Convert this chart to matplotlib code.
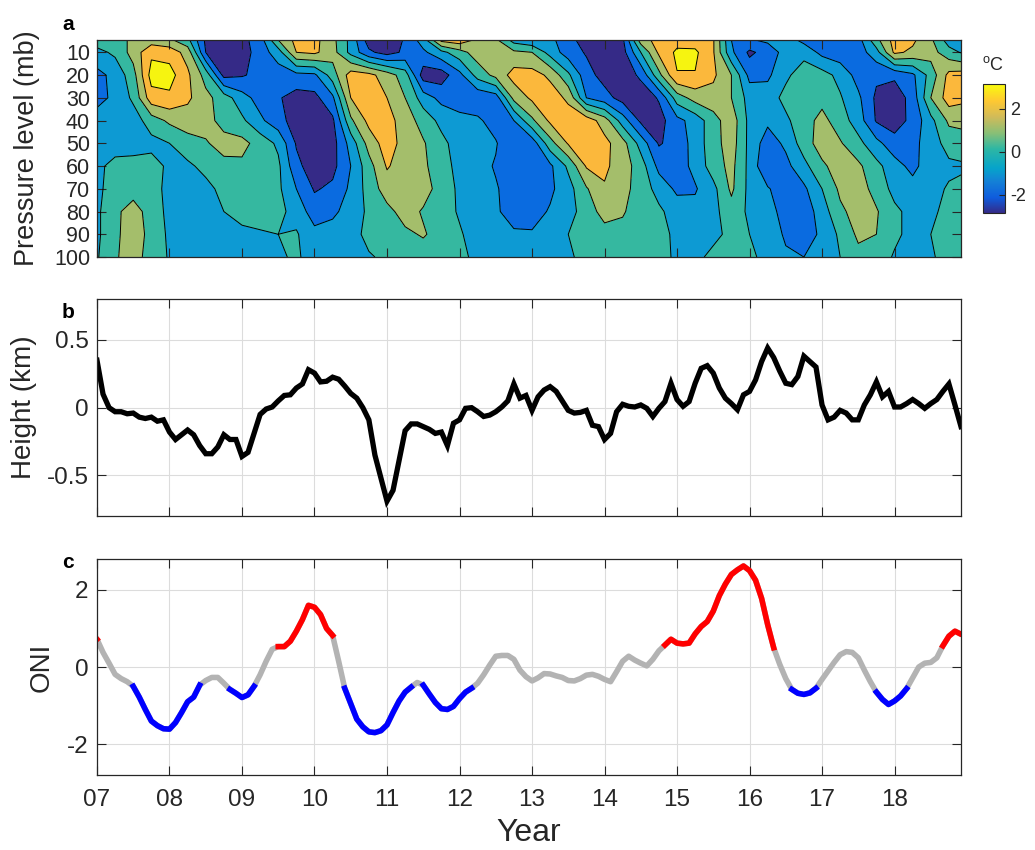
import matplotlib
matplotlib.use("Agg")
import matplotlib.pyplot as plt
import numpy as np
from matplotlib.colors import LinearSegmentedColormap, Normalize
from matplotlib.cm import ScalarMappable

plt.rcParams["font.family"] = ["Liberation Sans", "DejaVu Sans"]
plt.rcParams["axes.unicode_minus"] = False
plt.rcParams["mathtext.fontset"] = "custom"
plt.rcParams["mathtext.rm"] = "Liberation Sans"

# ---- panel a: temperature anomaly (deg C), one column every 3 months from 2007.0
pressure = [4.6, 10, 20, 30, 40, 50, 60, 70, 80, 90, 100]
qbo_time = [2007 + 0.25 * k for k in range(49)]
qbo_cols = [
    [0.5, -0.3, -1.3, -1.3, -0.6, -0.6, -0.3, -0.3, -0.2, -0.2, -0.1],
    [0.6, 0.2, -0.7, -0.8, -0.7, -0.6, 0.4, 0.6, 0.8, 0.8, 0.9],
    [1.2, 1.4, 0.6, 0.2, -0.5, -0.6, 0.5, 0.6, 1.4, 1.5, 1.4],
    [1.5, 2.8, 3.4, 2.6, 0.5, -0.3, 0.4, 0.4, 0.6, 0.7, 0.6],
    [1.2, 2.6, 3.4, 2.8, 1.2, 0.0, -0.2, -0.3, -0.3, -0.2, -0.1],
    [0.3, 1.6, 2.2, 2.2, 1.5, 0.6, -0.2, -0.4, -0.4, -0.4, -0.3],
    [-2.2, -2.0, 0.6, 1.3, 1.4, 0.9, 0.3, -0.3, -0.3, -0.3, -0.3],
    [-2.5, -2.6, -2.3, 0.5, 0.6, 1.4, 0.7, 0.3, 0.0, -0.2, -0.2],
    [-2.3, -2.5, -2.1, -0.6, 0.2, 1.3, 0.8, 0.6, 0.3, -0.2, -0.2],
    [-1.5, -1.5, -1.7, -1.4, -0.8, 0.6, 0.6, 0.5, 0.4, -0.1, -0.1],
    [1.0, -0.5, -1.5, -1.9, -1.6, -0.2, 0.2, 0.2, 0.3, 0.0, -0.1],
    [2.3, 2.0, -1.3, -2.4, -2.5, -2.1, -1.7, -1.0, -0.4, 0.1, 0.1],
    [2.3, 2.2, -1.2, -2.3, -2.7, -2.8, -2.6, -2.1, -1.5, -0.7, -0.3],
    [1.3, 1.4, 0.5, -1.2, -2.2, -2.4, -2.3, -1.8, -1.2, -0.6, -0.4],
    [-0.3, -0.3, 2.5, 2.0, 0.8, -0.6, -1.0, -0.8, -0.6, -0.4, -0.3],
    [-2.5, -1.8, 2.3, 2.6, 2.3, 1.4, 0.6, 0.4, 0.2, 0.3, -0.1],
    [-2.6, -2.4, 1.5, 2.0, 2.4, 2.5, 2.1, 1.5, 0.7, 0.6, 0.2],
    [-1.9, -1.8, 0.5, 1.0, 1.5, 1.6, 1.5, 1.6, 1.4, 0.8, 0.4],
    [-0.5, -1.2, -2.5, -0.5, 0.6, 1.1, 1.2, 1.4, 0.9, 1.1, 0.5],
    [2.3, -0.3, -2.5, -1.3, -0.3, 0.3, 0.4, 0.6, 0.4, 0.6, 0.4],
    [2.6, 0.6, -1.3, -1.7, -0.6, -0.5, -0.3, -0.2, -0.1, 0.1, 0.2],
    [1.8, 1.5, 0.4, -1.8, -0.8, -0.8, -0.6, -0.6, -0.5, -0.4, -0.2],
    [1.2, 1.5, 1.3, -1.5, -1.5, -0.9, -1.1, -0.9, -0.9, -0.6, -0.4],
    [-0.4, 1.2, 2.4, 1.3, -1.0, -2.0, -1.8, -1.5, -1.3, -0.9, -0.4],
    [-0.8, 1.0, 2.4, 2.2, 0.8, -1.6, -2.0, -1.6, -1.4, -0.9, -0.5],
    [-0.7, -0.4, 1.8, 2.5, 2.2, 0.6, -1.2, -1.2, -0.9, -0.6, -0.4],
    [-1.7, -1.5, 0.2, 1.8, 2.5, 2.1, 0.2, -0.4, -0.5, 0.0, -0.1],
    [-2.4, -2.1, -1.6, -1.0, 2.6, 2.2, 2.1, 0.9, 0.6, 0.4, 0.2],
    [-2.6, -2.6, -2.4, -1.6, 1.5, 2.3, 2.2, 1.9, 1.3, 0.7, 0.3],
    [-2.2, -2.4, -2.6, -2.4, -0.5, 1.4, 1.5, 1.3, 1.1, 0.7, 0.4],
    [1.5, 0.0, -1.8, -2.6, -2.2, -0.4, 0.5, 0.6, 0.5, 0.5, 0.3],
    [2.4, 2.2, 0.7, -1.9, -2.4, -2.1, -1.3, -0.4, 0.2, 0.3, 0.2],
    [2.6, 3.2, 2.95, 0.5, -1.3, -1.6, -1.5, -1.2, -0.5, -0.2, -0.1],
    [2.5, 3.2, 2.95, 1.4, -0.6, -0.6, -0.7, -1.1, -0.7, -0.4, -0.2],
    [2.1, 2.1, 2.2, 1.6, 0.6, 0.6, 0.5, -0.3, -0.3, -0.2, 0.2],
    [-1.0, -0.8, 1.0, 1.0, 1.6, 1.5, 1.3, 1.2, 0.6, 0.2, 0.3],
    [-1.1, -2.2, -1.3, -0.4, -0.3, -0.3, -0.3, -0.3, -0.2, 0.0, 0.2],
    [-0.8, -1.6, -1.2, -0.5, -0.8, -1.5, -1.9, -0.9, -0.5, -0.2, -0.3],
    [-0.5, -0.6, -0.2, 0.3, -0.2, -0.8, -1.3, -1.6, -1.5, -1.2, -0.8],
    [-1.3, -0.3, 0.5, 0.6, 0.6, 0.5, -0.3, -1.2, -1.6, -1.5, -1.0],
    [-1.6, -1.3, 0.4, 0.7, 1.3, 1.5, 0.8, 0.0, -0.5, -0.8, -0.6],
    [-1.7, -1.6, -0.3, 0.1, 0.5, 1.1, 1.5, 1.2, 0.8, 0.2, 0.0],
    [-1.4, -1.5, -1.4, -0.8, -0.5, 0.3, 1.2, 1.5, 1.4, 1.2, 0.7],
    [0.7, -0.4, -1.8, -2.2, -2.1, -0.7, 0.3, 0.6, 1.1, 1.0, 0.5],
    [2.4, 2.2, -1.8, -2.6, -2.5, -1.6, -0.6, -0.3, 0.2, 0.2, -0.1],
    [2.2, 1.8, -1.2, -1.6, -1.7, -1.3, -1.3, -0.6, -0.3, -0.3, -0.3],
    [1.2, 1.4, 0.4, 1.0, -0.3, -0.5, -0.4, -0.3, -0.2, 0.0, -0.1],
    [-0.5, 0.4, 2.3, 2.5, 1.2, 0.4, -0.2, 0.1, 0.3, 0.3, 0.3],
    [-1.3, -0.3, 2.5, 2.2, 1.3, 0.6, -0.1, 0.3, 0.4, 0.4, 0.3],
]
contour_levels = [-2, -1, 0, 1, 2, 3]
band_colors = ["#352A87", "#0A6BE0", "#0D9AD3", "#35B8A0", "#A4BE6B", "#FBB83C", "#F6F410"]

# ---- panel b: height anomaly (km), monthly from Jan 2007
height = [
    0.35, 0.10, 0.00, -0.03, -0.03, -0.045, -0.04, -0.07, -0.08, -0.07, -0.10, -0.09,
    -0.18, -0.235, -0.20, -0.165, -0.20, -0.28, -0.34, -0.34, -0.29, -0.20, -0.235, -0.235,
    -0.36, -0.33, -0.19, -0.05, -0.01, 0.005, 0.05, 0.09, 0.095, 0.145, 0.175, 0.28,
    0.255, 0.19, 0.195, 0.225, 0.21, 0.16, 0.105, 0.07, 0.0, -0.09, -0.35, -0.52,
    -0.69, -0.61, -0.39, -0.17, -0.12, -0.12, -0.14, -0.16, -0.19, -0.18, -0.28, -0.115,
    -0.09, -0.005, 0.0, -0.03, -0.065, -0.055, -0.03, 0.005, 0.05, 0.175, 0.07, 0.09,
    -0.02, 0.08, 0.13, 0.155, 0.12, 0.05, -0.02, -0.04, -0.035, -0.02, -0.13, -0.14,
    -0.235, -0.19, -0.03, 0.025, 0.01, 0.005, 0.02, -0.005, -0.065, -0.005, 0.045, 0.18,
    0.06, 0.01, 0.045, 0.18, 0.29, 0.31, 0.255, 0.145, 0.07, 0.03, -0.015, 0.095,
    0.12, 0.205, 0.34, 0.44, 0.37, 0.27, 0.18, 0.17, 0.23, 0.38, 0.34, 0.30,
    0.02, -0.09, -0.07, -0.02, -0.04, -0.09, -0.09, 0.02, 0.095, 0.19, 0.08, 0.12,
    0.005, 0.005, 0.03, 0.06, 0.03, -0.005, 0.03, 0.06, 0.12, 0.175, 0.02, -0.14,
]

# ---- panel c: ONI, monthly from Dec 2006 to Jan 2019, with ENSO phase per month
oni = [
    0.90,
    0.72, 0.38, 0.10, -0.19, -0.30, -0.38, -0.50, -0.78, -1.10, -1.40, -1.52, -1.60,
    -1.61, -1.44, -1.18, -0.90, -0.78, -0.47, -0.35, -0.27, -0.27, -0.42, -0.58, -0.68,
    -0.79, -0.72, -0.50, -0.20, 0.15, 0.46, 0.53, 0.53, 0.67, 0.93, 1.23, 1.60,
    1.55, 1.36, 1.00, 0.82, 0.15, -0.55, -0.95, -1.35, -1.55, -1.68, -1.70, -1.65,
    -1.50, -1.18, -0.88, -0.65, -0.52, -0.40, -0.47, -0.70, -0.92, -1.08, -1.10, -1.02,
    -0.82, -0.65, -0.55, -0.42, -0.20, 0.05, 0.28, 0.30, 0.30, 0.20, -0.08, -0.25,
    -0.36, -0.28, -0.17, -0.18, -0.23, -0.27, -0.35, -0.36, -0.30, -0.21, -0.19, -0.24,
    -0.32, -0.38, -0.12, 0.15, 0.28, 0.18, 0.10, 0.03, 0.20, 0.42, 0.57, 0.72,
    0.62, 0.60, 0.62, 0.86, 1.05, 1.18, 1.45, 1.85, 2.15, 2.40, 2.52, 2.62,
    2.50, 2.25, 1.78, 1.10, 0.50, 0.07, -0.30, -0.58, -0.68, -0.71, -0.67, -0.55,
    -0.32, -0.10, 0.12, 0.32, 0.40, 0.38, 0.24, -0.08, -0.38, -0.65, -0.84, -0.97,
    -0.88, -0.75, -0.56, -0.28, 0.00, 0.10, 0.12, 0.24, 0.55, 0.80, 0.93, 0.85,
    0.80,
]
phase = (
    "r"
    + "r" + "g" * 5 + "b" * 12 + "g" * 4 + "b" * 5 + "g" * 3 + "r" * 10 + "g"
    + "b" * 12 + "g" + "b" * 9 + "g" * 31 + "r" * 19 + "g" * 2 + "b" * 5
    + "g" * 9 + "b" * 6 + "g" * 5 + "r" * 5
)
year_ticks = list(range(2007, 2019))
year_labels = ["%02d" % (y - 2000) for y in year_ticks]

# ---------------------------------------------------------------------------
frame_col = "#262626"
t_month = 2007 + np.arange(len(height)) / 12
t_oni = 2007 + (np.arange(len(oni)) - 1) / 12
x_end = 2007 + 143 / 12

fig = plt.figure(figsize=(10.35, 8.5), dpi=100)
ax_a = fig.add_axes([0.0937, 0.6976, 0.8348, 0.2553])
ax_b = fig.add_axes([0.0937, 0.3929, 0.8348, 0.2550])
ax_c = fig.add_axes([0.0937, 0.0882, 0.8348, 0.2541])
cax = fig.add_axes([0.9495, 0.749, 0.0215, 0.1518])


def style(ax, size):
    ax.tick_params(direction="in", length=6.5, width=0.8, top=True, right=True,
                   labelsize=size, color=frame_col, labelcolor=frame_col)
    for s in ax.spines.values():
        s.set_color(frame_col)
        s.set_linewidth(0.9)


# panel a
Z = np.array(qbo_cols).T
fill_levels = [-10] + contour_levels + [10]
ax_a.contourf(qbo_time, pressure, Z, levels=fill_levels, colors=band_colors)
ax_a.contour(qbo_time, pressure, Z, levels=contour_levels, colors="k",
             linewidths=0.7, linestyles="solid")
ax_a.set_xlim(2007, x_end)
ax_a.set_ylim(100, 4.6)
ax_a.set_yticks(range(10, 101, 10))
ax_a.set_xticks(year_ticks)
ax_a.set_xticklabels([])
style(ax_a, 15.5)
ax_a.tick_params(axis="y", pad=5)
ax_a.set_ylabel("Pressure level (mb)", fontsize=19.5, color=frame_col)
ax_a.yaxis.set_label_coords(-0.066, 0.5)

parula = LinearSegmentedColormap.from_list("parula", [
    (0.0, "#352A87"), (0.12, "#0F5CDD"), (0.25, "#1481D6"), (0.35, "#06A4CA"),
    (0.5, "#2EB7A4"), (0.62, "#87BF77"), (0.75, "#D1BB59"), (0.87, "#FEC832"),
    (1.0, "#F9FB0E")])
cb = fig.colorbar(ScalarMappable(norm=Normalize(-2.87, 3.13), cmap=parula), cax=cax,
                  ticks=[-2, 0, 2])
cb.ax.tick_params(direction="in", length=4, width=0.8, labelsize=13,
                  color=frame_col, labelcolor=frame_col)
cb.outline.set_edgecolor(frame_col)
cb.outline.set_linewidth(0.8)
fig.text(0.9594, 0.918, r"$^{\mathrm{o}}$C", fontsize=13, ha="center", color=frame_col)

# panel b
ax_b.plot(t_month, height, color="k", lw=3.8, solid_joinstyle="miter")
ax_b.set_xlim(2007, x_end)
ax_b.set_ylim(-0.8, 0.8)
ax_b.set_yticks([-0.5, 0, 0.5])
ax_b.set_yticklabels(["-0.5", "0", "0.5"])
ax_b.set_xticks(year_ticks)
ax_b.set_xticklabels([])
ax_b.grid(True, color="#DCDCDC", lw=0.8)
ax_b.set_axisbelow(True)
style(ax_b, 17.5)
ax_b.tick_params(axis="y", pad=6)
ax_b.set_ylabel("Height (km)", fontsize=20, color=frame_col)
ax_b.yaxis.set_label_coords(-0.069, 0.5)

# panel c
oni_arr = np.array(oni)
ph = np.array(list(phase))
ax_c.plot(t_oni, oni_arr, color="#B3B3B3", lw=4)
for key, col in (("r", "#FF0000"), ("b", "#0000FF")):
    ax_c.plot(t_oni, np.where(ph == key, oni_arr, np.nan), color=col, lw=4)
ax_c.set_xlim(2007, x_end)
ax_c.set_ylim(-2.8, 2.8)
ax_c.set_yticks([-2, 0, 2])
ax_c.set_xticks(year_ticks)
ax_c.set_xticklabels(year_labels)
ax_c.grid(True, color="#DCDCDC", lw=0.8)
ax_c.set_axisbelow(True)
style(ax_c, 17.5)
ax_c.tick_params(axis="y", pad=6)
ax_c.tick_params(axis="x", pad=10)
ax_c.set_ylabel("ONI", fontsize=20, color=frame_col)
ax_c.yaxis.set_label_coords(-0.0486, 0.5)
ax_c.set_xlabel("Year", fontsize=23, color=frame_col)
ax_c.xaxis.set_label_coords(0.5, -0.2)

for lab, yy in (("a", 0.965), ("b", 0.626), ("c", 0.332)):
    fig.text(0.0599, yy, lab, fontsize=15, fontweight="bold", va="baseline")

fig.savefig("out.png", dpi=100)
